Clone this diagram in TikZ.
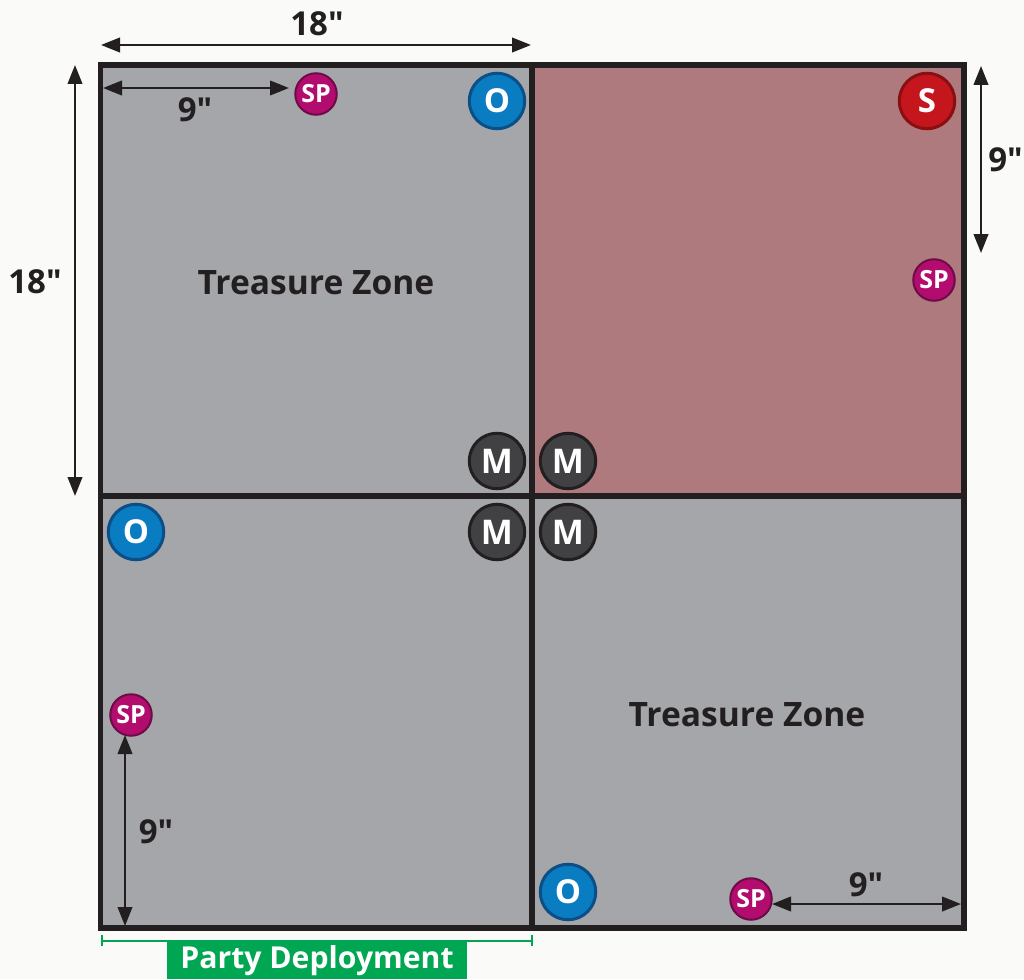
\documentclass[tikz,border=0pt]{standalone}
\usepackage{fontspec}
\setmainfont{Open Sans}
\newfontfamily\plainfont{Open Sans}
\usetikzlibrary{arrows.meta}
\definecolor{paper}{HTML}{FAFAF8}
\definecolor{zonegray}{HTML}{A5A6A9}
\definecolor{zonered}{HTML}{AE7A7D}
\definecolor{ink}{HTML}{231F20}
\definecolor{mfill}{HTML}{414042}
\definecolor{ofill}{HTML}{0A7CC1}
\definecolor{oline}{HTML}{0B4F86}
\definecolor{sfill}{HTML}{C4161C}
\definecolor{sline}{HTML}{8A0F13}
\definecolor{spfill}{HTML}{B20D6E}
\definecolor{spline}{HTML}{6E0A48}
\definecolor{green}{HTML}{00A651}
\newcommand{\inch}{{\plainfont\bfseries\char34\relax}}
\tikzset{
  x=1pt,y=-1pt,
  token/.style={circle,inner sep=0pt,line width=3pt,text=white,font=\bfseries},
  mtoken/.style={token,minimum size=55.5pt,draw=ink,fill=mfill,font=\bfseries\fontsize{34}{34}\selectfont},
  otoken/.style={token,minimum size=55.5pt,draw=oline,fill=ofill,font=\bfseries\fontsize{33}{33}\selectfont},
  stoken/.style={token,minimum size=55.5pt,draw=sline,fill=sfill,font=\bfseries\fontsize{33}{33}\selectfont},
  sptoken/.style={token,minimum size=41.5pt,line width=2pt,draw=spline,fill=spfill,font=\bfseries\fontsize{25}{25}\selectfont},
  dim/.style={draw=ink,line width=2.4pt,{Triangle[length=19pt,width=14.5pt]}-{Triangle[length=19pt,width=14.5pt]}},
  dimlabel/.style={text=ink,font=\bfseries\fontsize{33}{33}\selectfont,inner sep=0pt},
  zonelabel/.style={text=ink,font=\bfseries\fontsize{33.6}{33.6}\selectfont,inner sep=0pt},
  gridline/.style={draw=ink,line width=5.5pt},
  bracket/.style={draw=green,line width=2pt},
}
\begin{document}
\begin{tikzpicture}
\useasboundingbox (0,0) rectangle (1024,979);
\fill[paper] (0,0) rectangle (1024,979);
% zones
\fill[zonegray] (100.5,65) rectangle (964,928);
\fill[zonered] (532,65) rectangle (964,496);
% grid
\coordinate (tl) at (100.5,65);
\coordinate (tr) at (964,65);
\coordinate (bl) at (100.5,928);
\coordinate (br) at (964,928);
\coordinate (tm) at (532,65);
\coordinate (bm) at (532,928);
\coordinate (lm) at (100.5,496);
\coordinate (rm) at (964,496);
\draw[gridline,line join=miter] (tl) -- (tr) -- (br) -- (bl) -- cycle;
\draw[gridline] (tm) -- (bm);
\draw[gridline] (lm) -- (rm);
% tokens
\node[mtoken] (m1) at (497,461) {M};
\node[mtoken] (m2) at (568,461) {M};
\node[mtoken] (m3) at (497,532) {M};
\node[mtoken] (m4) at (568,532) {M};
\node[otoken] (o1) at (497,101) {O};
\node[otoken] (o2) at (136,532) {O};
\node[otoken] (o3) at (568,892) {O};
\node[stoken] (s1) at (927,101) {S};
\node[sptoken] (sp1) at (316,94) {SP};
\node[sptoken] (sp2) at (934,280) {SP};
\node[sptoken] (sp3) at (131,715) {SP};
\node[sptoken] (sp4) at (751,899) {SP};
% zone labels
\node[zonelabel] (tz1) at (316,283) {Treasure Zone};
\node[zonelabel] (tz2) at (747,715) {Treasure Zone};
% dimensions
\coordinate (a1) at (101,45);
\coordinate (a2) at (531,45);
\coordinate (b1) at (75,65);
\coordinate (b2) at (75,496);
\coordinate (c1) at (103,88);
\coordinate (c2) at (289,88);
\coordinate (d1) at (981,66);
\coordinate (d2) at (981,253);
\coordinate (e1) at (125,735);
\coordinate (e2) at (125,926);
\coordinate (f1) at (772,904);
\coordinate (f2) at (961,904);
\draw[dim] (a1) -- (a2);
\draw[dim] (b1) -- (b2);
\draw[dim] (c1) -- (c2);
\draw[dim] (d1) -- (d2);
\draw[dim] (e1) -- (e2);
\draw[dim] (f1) -- (f2);
\node[dimlabel] (l18a) at (317,24) {18\inch};
\node[dimlabel] (l18b) at (35,282) {18\inch};
\node[dimlabel] (l9a) at (195,110) {9\inch};
\node[dimlabel,anchor=east] (l9b) at (1023,160) {9\inch};
\node[dimlabel] (l9c) at (156,832) {9\inch};
\node[dimlabel] (l9d) at (866,885) {9\inch};
% party deployment
\coordinate (g1) at (101.5,941);
\coordinate (g2) at (532,941);
\draw[bracket] (g1) -- (g2);
\draw[bracket] ([yshift=-5pt]g1) -- ([yshift=6pt]g1);
\draw[bracket] ([yshift=-5pt]g2) -- ([yshift=6pt]g2);
\fill[green] (167,941) rectangle (467,979);
\node[text=white,font=\bfseries\fontsize{30.2}{30.2}\selectfont,inner sep=0pt] (pd) at (317,961) {Party Deployment};
\end{tikzpicture}
\end{document}
